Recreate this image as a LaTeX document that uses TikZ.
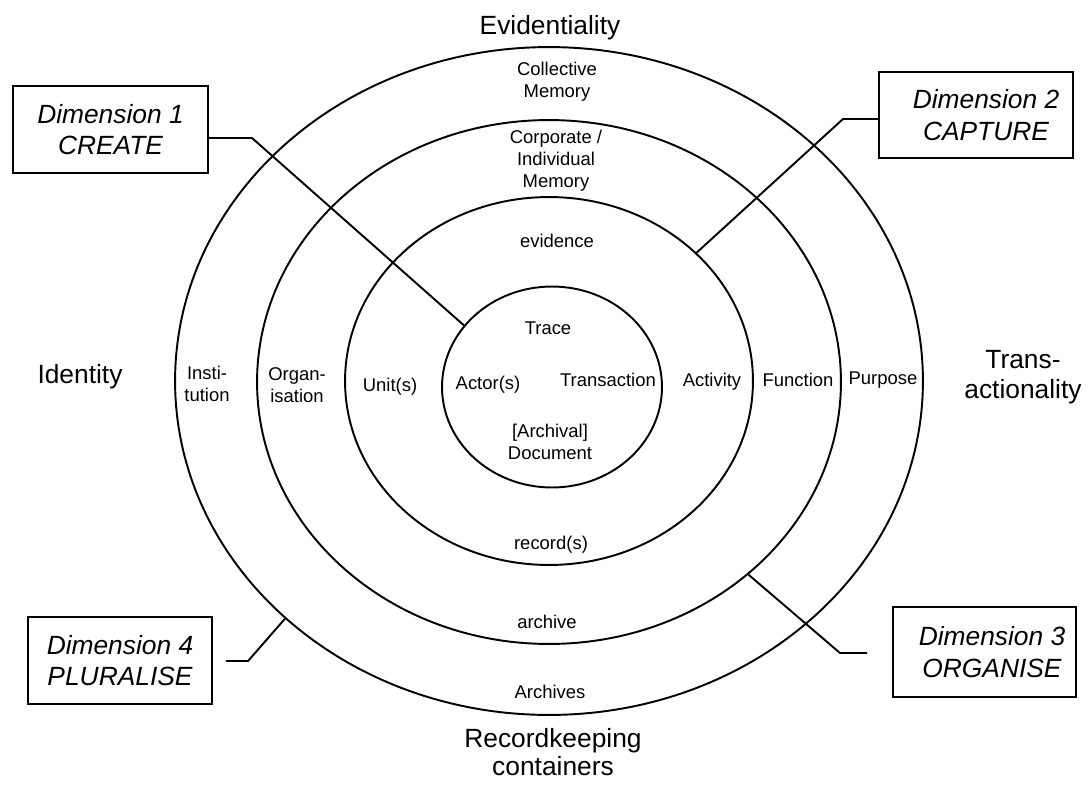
\documentclass[tikz,border=0pt]{standalone}
\usepackage{fontspec}
\setmainfont{Liberation Sans}
\usetikzlibrary{shapes.geometric}

\begin{document}
\begin{tikzpicture}[x=0.02cm, y=-0.02cm]

      \tikzset{ring/.style={draw, ellipse, inner sep=0pt, line width=1.1pt},
               small/.style={font=\fontsize{10.5}{12.6}\selectfont, align=center, inner sep=0pt},
               big/.style={font=\fontsize{15}{17}\selectfont, align=center, inner sep=0pt},
               dimbox/.style={draw, line width=1.1pt, font=\fontsize{15}{18}\selectfont\itshape, align=center, inner sep=0pt},
               link/.style={line width=1.1pt}}
      \useasboundingbox (0,0) rectangle (1089,785);
%% Rings
      	\node[ring, minimum width=14.96cm, minimum height=13.36cm] (outer) at (549,381) {};
      	\node[ring, minimum width=11.68cm, minimum height=10.48cm] (ring2) at (549,382) {};
      	\node[ring, minimum width=8.16cm, minimum height=7.36cm] (ring3) at (549,381) {};
      	\node[ring, minimum width=4.4cm, minimum height=4.02cm] (inner) at (552,387) {};
%% Axis labels
      	\node[big] (evid) at (550,28) {Evidentiality};
      	\node[big] (ident) at (80,377) {Identity};
      	\node[big] (trans) at (1023,377) {Trans-\\actionality};
      	\node[big, font=\fontsize{15}{16}\selectfont] (contain) at (553,752) {Recordkeeping\\containers};
%% Ring labels
      	\node[small] (collmem) at (557,82) {Collective\\Memory};
      	\node[small] (corpmem) at (556,161) {Corporate /\\Individual\\Memory};
      	\node[small] (evidence) at (557,241) {evidence};
      	\node[small] (trace) at (548,328) {Trace};
      	\node[small] (actor) at (488,385) {Actor(s)};
      	\node[small] (transact) at (608,380) {Transaction};
      	\node[small] (document) at (550,442) {[Archival]\\Document};
      	\node[small] (records) at (551,545) {record(s)};
      	\node[small] (archive) at (547,622) {archive};
      	\node[small] (archives) at (550,692) {Archives};
      	\node[small] (instit) at (207,384) {Insti-\\tution};
      	\node[small] (organ) at (297,385) {Organ-\\isation};
      	\node[small] (units) at (390,387) {Unit(s)};
      	\node[small] (activity) at (712,382) {Activity};
      	\node[small] (function) at (798,380) {Function};
      	\node[small] (purpose) at (883,380) {Purpose};
%% Dimension boxes
      	\node[dimbox, minimum width=3.9cm, minimum height=1.74cm] (dim1) at (110.5,129.5) {Dimension 1\\CREATE};
      	\node[dimbox, minimum width=3.88cm, minimum height=1.72cm] (dim2) at (976,115) {\hspace*{0.4cm}Dimension 2\\\hspace*{0.4cm}CAPTURE};
      	\node[dimbox, minimum width=3.66cm, minimum height=1.8cm] (dim3) at (984.5,652) {\hspace*{0.3cm}Dimension 3\\\hspace*{0.3cm}ORGANISE};
      	\node[dimbox, minimum width=3.68cm, minimum height=1.74cm] (dim4) at (120,660.5) {Dimension 4\\PLURALISE};
%Connectors
      	\coordinate (c1) at (252,138);
      	\coordinate (c2) at (843,119);
      	\coordinate (c3) at (840,653);
      	\coordinate (c4) at (248,661);
		\draw[link] (c1 -| dim1.east) -- (c1) -- (inner.145);
		\draw[link] (c2 -| dim2.west) -- (c2) -- (ring3.41);
		\draw[link, shorten <=0.5cm] (c3 -| dim3.west) -- (c3) -- (ring2.316);
		\draw[link, shorten <=0.26cm] (c4 -| dim4.east) -- (c4) -- (outer.222.6);

	\end{tikzpicture}
\end{document}
